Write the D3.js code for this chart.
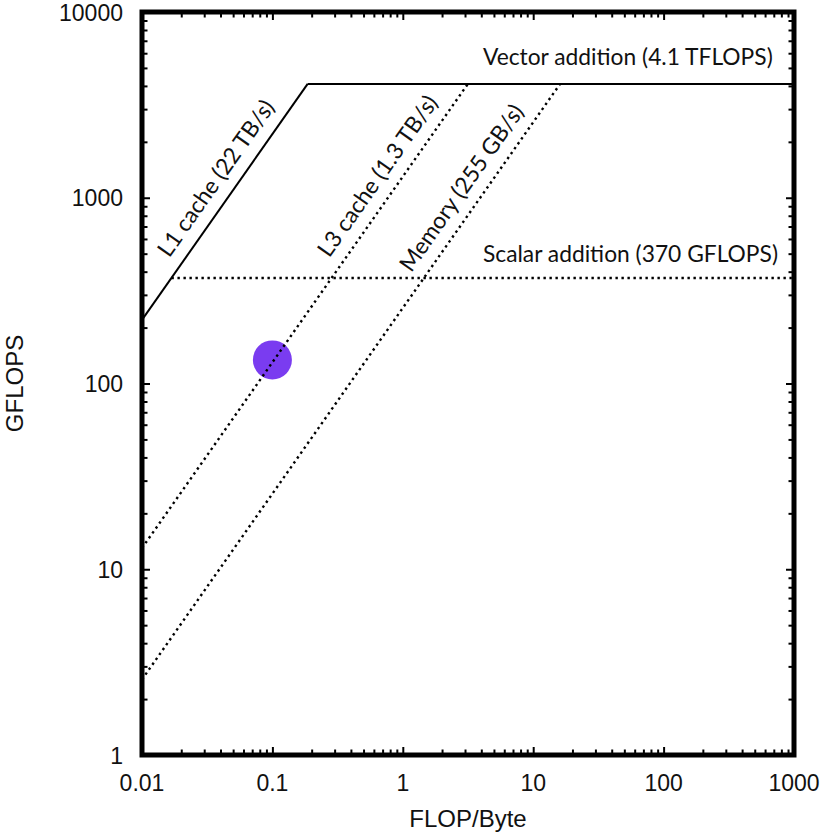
<!DOCTYPE html>
<html>
<head>
<meta charset="utf-8">
<script src="https://cdn.jsdelivr.net/npm/d3@7"></script>
<style>
  html, body { margin: 0; padding: 0; background: #fff; }
  svg { display: block; }
</style>
</head>
<body>
<svg id="chart" width="826" height="833"></svg>
<script>
// ---------- data ----------
const xTickValues = [0.01, 0.1, 1, 10, 100, 1000];
const xTickLabels = ["0.01", "0.1", "1", "10", "100", "1000"];
const yTickValues = [1, 10, 100, 1000, 10000];
const yTickLabels = ["1", "10", "100", "1000", "10000"];

const bandwidthNames = ["L1 cache (22 TB/s)", "L3 cache (1.3 TB/s)", "Memory (255 GB/s)"];
const bandwidthGBs = [22000, 1300, 255];           // GB/s

const peakNames = ["Vector addition (4.1 TFLOPS)", "Scalar addition (370 GFLOPS)"];
const peakGFLOPS = [4100, 370];

const pointIntensity = [0.1];   // FLOP/Byte
const pointGFLOPS = [134];

const xTitle = "FLOP/Byte";
const yTitle = "GFLOPS";

// ---------- layout ----------
const W = 826, H = 833;
const m = { left: 142, top: 12, right: 32, bottom: 78 };
const svg = d3.select("#chart");

const x = d3.scaleLog().domain([0.01, 1000]).range([m.left, W - m.right]);
const y = d3.scaleLog().domain([1, 10000]).range([H - m.bottom, m.top]);
const [x0, x1] = x.domain();

// point (under the lines)
svg.append("g").selectAll("circle")
  .data(pointIntensity.map((v, i) => [v, pointGFLOPS[i]]))
  .join("circle")
  .attr("cx", d => x(d[0]))
  .attr("cy", d => y(d[1]))
  .attr("r", 19.5)
  .attr("fill", "#7a3cf0");

const line = d3.line().x(d => x(d[0])).y(d => y(d[1]));
const gLines = svg.append("g").attr("fill", "none").attr("stroke", "#000");

// bandwidth slopes: from left edge to the vector roof
bandwidthGBs.forEach((bw, i) => {
  const xe = peakGFLOPS[0] / bw;
  const p = gLines.append("path")
    .attr("d", line([[x0, bw * x0], [xe, bw * xe]]));
  if (i === 0) p.attr("stroke-width", 2);
  else p.attr("stroke-width", 2.4).attr("stroke-dasharray", "2.4 3.6");
});

// compute roofs: from L1 intersection to right edge
peakGFLOPS.forEach((pk, i) => {
  const xs = pk / bandwidthGBs[0];
  const p = gLines.append("path")
    .attr("d", line([[xs, pk], [x1, pk]]));
  if (i === 0) p.attr("stroke-width", 2);
  else p.attr("stroke-width", 2.4).attr("stroke-dasharray", "2.4 3.6");
});

// ---------- axes / ticks ----------
const minorVals = (lo, hi) => {
  const out = [];
  for (let d = lo; d < hi; d *= 10) for (let k = 2; k <= 9; k++) out.push(d * k);
  return out;
};
const xMinor = minorVals(0.01, 1000);
const yMinor = minorVals(1, 10000);

function drawTicks(axisGen, scale, vals, len, transform) {
  const g = svg.append("g").attr("transform", transform)
    .call(axisGen(scale).tickValues(vals).tickSize(-len).tickFormat(""));
  g.select(".domain").remove();
  g.selectAll("line").attr("stroke", "#000").attr("stroke-width", 2);
}
const bottomY = H - m.bottom, rightX = W - m.right;
drawTicks(d3.axisBottom, x, xTickValues, 8, `translate(0,${bottomY})`);
drawTicks(d3.axisBottom, x, xMinor, 5.5, `translate(0,${bottomY})`);
drawTicks(d3.axisTop, x, xTickValues, 8, `translate(0,${m.top})`);
drawTicks(d3.axisTop, x, xMinor, 5.5, `translate(0,${m.top})`);
drawTicks(d3.axisLeft, y, yTickValues, 8, `translate(${m.left},0)`);
drawTicks(d3.axisLeft, y, yMinor, 5.5, `translate(${m.left},0)`);
drawTicks(d3.axisRight, y, yTickValues, 8, `translate(${rightX},0)`);
drawTicks(d3.axisRight, y, yMinor, 5.5, `translate(${rightX},0)`);

// frame
svg.append("rect")
  .attr("x", m.left).attr("y", m.top)
  .attr("width", rightX - m.left).attr("height", bottomY - m.top)
  .attr("fill", "none").attr("stroke", "#000").attr("stroke-width", 5);

// tick labels
const tickFont = "'Liberation Sans', Arial, Helvetica, sans-serif";
svg.append("g").selectAll("text").data(xTickValues).join("text")
  .attr("x", d => x(d)).attr("y", bottomY + 36)
  .attr("text-anchor", "middle")
  .style("font-family", tickFont).style("font-size", "23px")
  .attr("fill", "#111")
  .text((d, i) => xTickLabels[i]);

svg.append("g").selectAll("text").data(yTickValues).join("text")
  .attr("x", m.left - 19).attr("y", d => y(d) + 8.5)
  .attr("text-anchor", "end")
  .style("font-family", tickFont).style("font-size", "23px")
  .attr("fill", "#111")
  .text((d, i) => yTickLabels[i]);

// axis titles
svg.append("text")
  .attr("x", (m.left + rightX) / 2).attr("y", H - 6)
  .attr("text-anchor", "middle")
  .style("font-family", tickFont).style("font-size", "24px")
  .attr("fill", "#111")
  .text(xTitle);

svg.append("text")
  .attr("transform", `translate(23,${(m.top + bottomY) / 2}) rotate(-90)`)
  .attr("text-anchor", "middle")
  .style("font-family", tickFont).style("font-size", "24px")
  .attr("fill", "#111")
  .text(yTitle);

// ---------- annotations ----------
const annFont = "Lato, 'Open Sans', sans-serif";
// size the annotation font so the vector label spans ~290px like the reference
const probe = svg.append("text").style("font-family", annFont).style("font-size", "25px").text(peakNames[0]);
const probeW = probe.node().getComputedTextLength() || 290;
probe.remove();
const annSize = 25 * 290 / probeW;

// roof labels: start x (data) and baseline lift above each roof (px)
const peakLabelStart = 4.12;
const peakLabelLift = [19, 16];
peakGFLOPS.forEach((pk, i) => {
  svg.append("text")
    .attr("x", x(peakLabelStart)).attr("y", y(pk) - peakLabelLift[i])
    .style("font-family", annFont).style("font-size", annSize + "px")
    .attr("fill", "#111")
    .text(peakNames[i]);
});

// slope labels: start along each line at these intensities, offset up-left
const slopeLabelAt = [0.0195, 0.33, 1.4];
const slopeLabelOffset = 13;
bandwidthGBs.forEach((bw, i) => {
  const a = x0, b = peakGFLOPS[0] / bw;
  const ang = Math.atan2(y(bw * b) - y(bw * a), x(b) - x(a));
  const px = x(slopeLabelAt[i]), py = y(bw * slopeLabelAt[i]);
  const bx = px + slopeLabelOffset * Math.sin(ang);
  const by = py - slopeLabelOffset * Math.cos(ang);
  svg.append("text")
    .attr("transform", `translate(${bx},${by}) rotate(${ang * 180 / Math.PI})`)
    .style("font-family", annFont).style("font-size", annSize + "px")
    .attr("fill", "#111")
    .text(bandwidthNames[i]);
});
</script>
</body>
</html>
